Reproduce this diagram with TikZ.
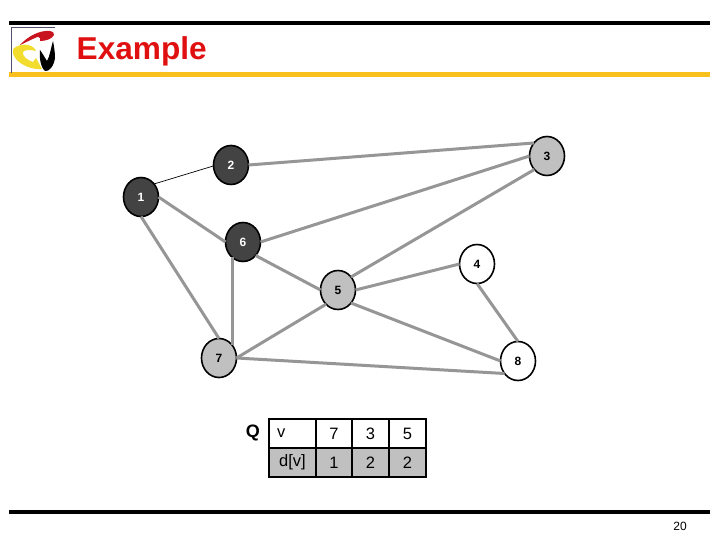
\documentclass[tikz,border=0pt]{standalone}
\usepackage{fontspec}
\usetikzlibrary{shapes.geometric}
\setmainfont{Liberation Sans}
\definecolor{edgegray}{HTML}{969696}
\definecolor{darkfill}{HTML}{434343}
\definecolor{midfill}{HTML}{C0C0C0}
\definecolor{titlered}{HTML}{E01010}
\definecolor{rulegold}{HTML}{F9C01E}
\definecolor{logoyellow}{HTML}{F2DC2E}
\definecolor{logored}{HTML}{C8141E}
\definecolor{logoline}{HTML}{50506E}
\tikzset{
  vert/.style={ellipse,draw=black,line width=1.6pt,minimum width=35pt,minimum height=39pt,inner sep=0pt,outer sep=0pt,font=\fontsize{12}{12}\selectfont\bfseries},
  vdark/.style={vert,fill=darkfill,text=white},
  vmid/.style={vert,fill=midfill,text=black},
  vwhite/.style={vert,fill=white,text=black},
  edge/.style={edgegray,line width=3pt},
  thinedge/.style={black,line width=0.7pt},
  cell/.style={draw=black,line width=1.5pt,anchor=north west,inner sep=0pt,outer sep=0pt,minimum height=29pt,font=\fontsize{16.5}{16.5}\selectfont,text=black},
  hrule/.style={line width=4pt}
}
\begin{document}
\begin{tikzpicture}[x=1pt,y=-1pt]
\useasboundingbox (0,0) rectangle (720,540);
\fill[white] (0,0) rectangle (720,540);
% header and footer
\draw[hrule,black] (9,23) -- (710,23);
\draw[hrule,rulegold,line width=5pt] (9,75) -- (710,75);
\draw[hrule,black] (9,512) -- (710,512);
% logo
\draw[logoline,line width=0.7pt] (55,27) -- (11.5,27) -- (11.5,73);
\fill[logored] (20,45) .. controls (28,36) and (40,30) .. (50,31) .. controls (53,31) and (54,33) .. (54,35)
  .. controls (52,39) and (46,41) .. (40,41) .. controls (41,37) and (38,36) .. (35,38)
  .. controls (30,40) and (25,43) .. (20,45) -- cycle;
\fill[logoyellow] (13,49) .. controls (17,45) and (24,44) .. (28,45) .. controls (32,46) and (35,48) .. (36,51)
  .. controls (32,50) and (25,49) .. (23,52) .. controls (22,56) and (27,60) .. (33,62)
  -- (36,58) -- (42,69) .. controls (32,70) and (21,65) .. (16,59) .. controls (13,55) and (12,52) .. (13,49) -- cycle;
\fill[black] (40,50) .. controls (39,58) and (41,68) .. (45,71) .. controls (49,72) and (54,66) .. (55,58)
  .. controls (55,52) and (54,46) .. (53,41) .. controls (51,47) and (50,56) .. (47,61)
  .. controls (45,58) and (43,54) .. (40,50) -- cycle;
\node[anchor=base west,inner sep=0pt,text=titlered,font=\fontsize{31.6}{32}\selectfont\bfseries] (title) at (76.5,60) {Example};
\node[anchor=base,inner sep=0pt,font=\fontsize{12}{12}\selectfont] (pageno) at (680,530) {20};
% vertices
\node[vdark] (n1) at (141,197) {1};
\node[vdark] (n2) at (231,165) {2};
\node[vmid] (n3) at (547,156) {3};
\node[vwhite] (n4) at (477,264) {4};
\node[vmid] (n5) at (338,290) {5};
\node[vdark] (n6) at (243,242) {6};
\node[vmid] (n7) at (219,358) {7};
\node[vwhite] (n8) at (518,361) {8};
% edges
\draw[thinedge] (n1.45) -- (n2.183);
\draw[edge] (n2.east) -- (n3.135);
\draw[edge] (n1.east) -- (n6.west);
\draw[edge] (n1.south) -- (n7.north);
\draw[edge] (n6.east) -- (n3.west);
\draw[edge] (n6.-47) -- (n5.west);
\draw[edge] (n6.235) -- (n6.235 |- n7.46);
\draw[edge] (n5.45) -- (n3.227);
\draw[edge] (n5.east) -- (n4.west);
\draw[edge] (n5.230) -- (n7.east);
\draw[edge] (n5.-45) -- (n8.west);
\draw[edge] (n4.south) -- (n8.north);
\draw[edge] (n7.east) -- (n8.223);
% queue table
\node[anchor=east,inner sep=0pt,font=\fontsize{18}{18}\selectfont\bfseries] (qlabel) at (260,433) {Q};
\node[cell,fill=white,minimum width=47pt] (v0) at (269,419) {\makebox[31pt][l]{v}};
\node[cell,fill=white,minimum width=36pt] (v1) at (316,419) {7};
\node[cell,fill=white,minimum width=37pt] (v2) at (352,419) {3};
\node[cell,fill=white,minimum width=37pt] (v3) at (389,419) {5};
\node[cell,fill=midfill,minimum width=47pt] (d0) at (269,448) {d[v]};
\node[cell,fill=midfill,minimum width=36pt] (d1) at (316,448) {1};
\node[cell,fill=midfill,minimum width=37pt] (d2) at (352,448) {2};
\node[cell,fill=midfill,minimum width=37pt] (d3) at (389,448) {2};
\end{tikzpicture}
\end{document}
